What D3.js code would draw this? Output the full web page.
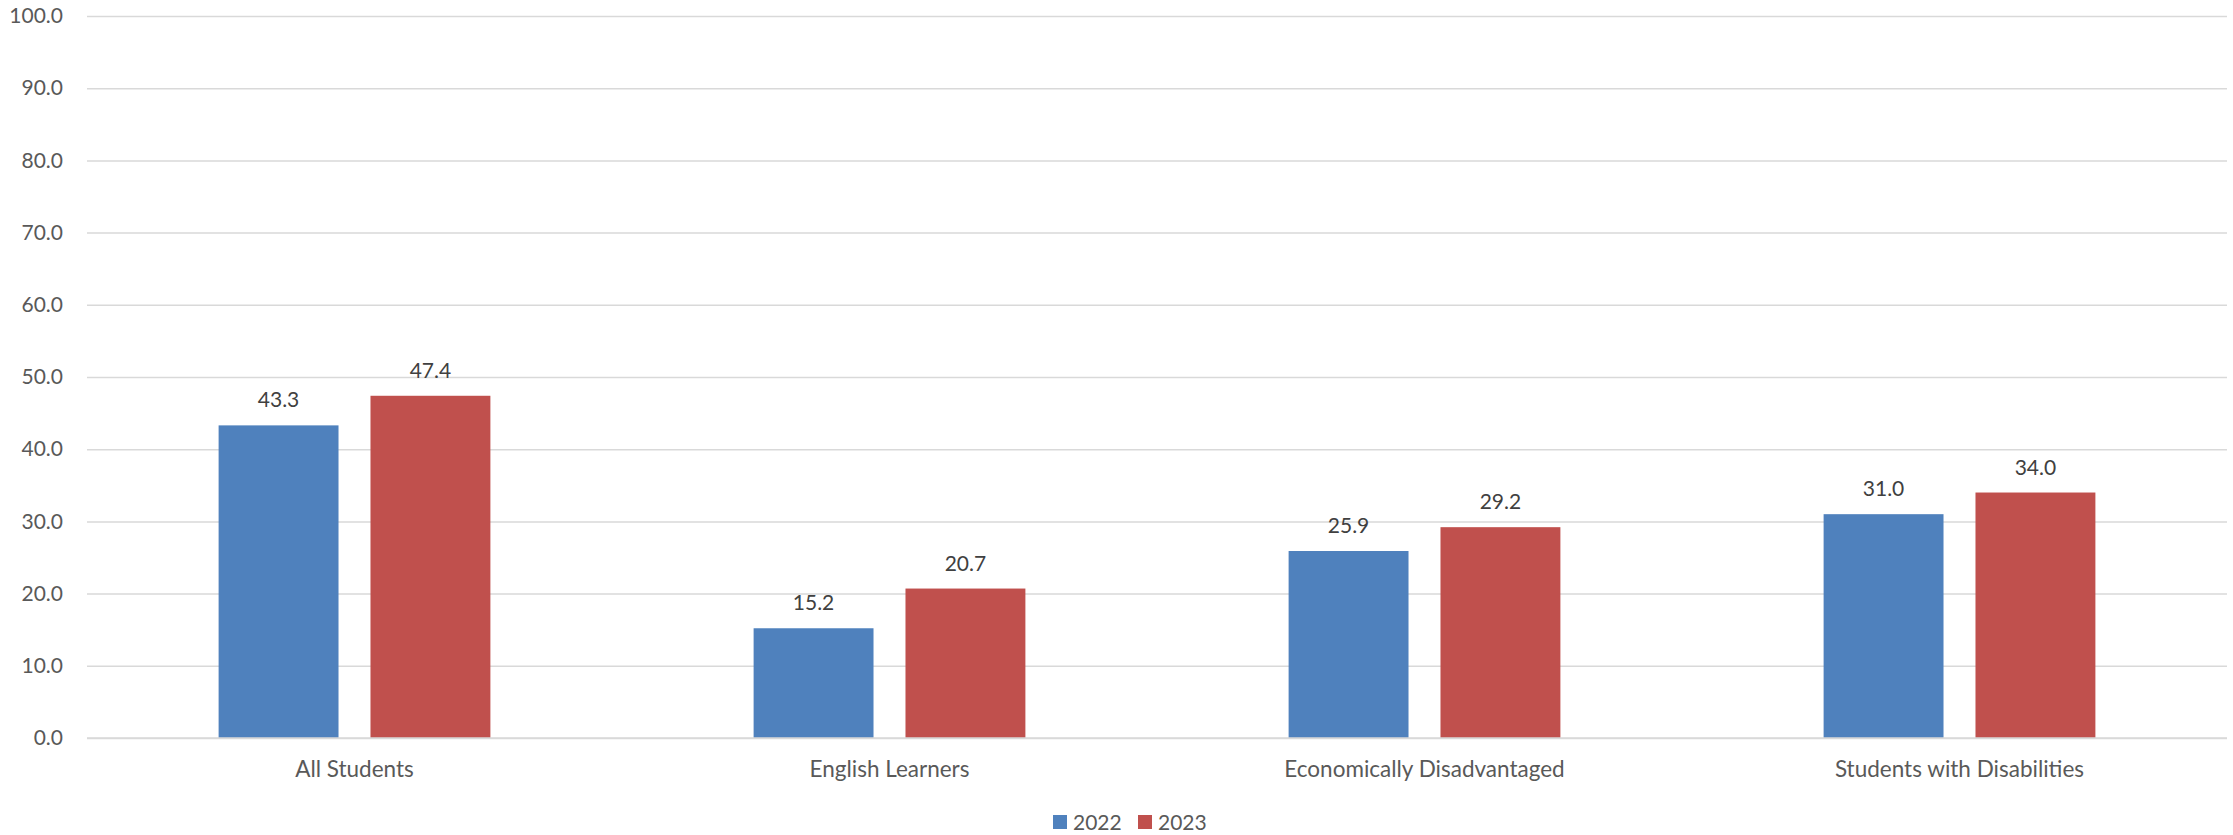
<!DOCTYPE html>
<html>
<head>
<meta charset="utf-8">
<script src="https://cdn.jsdelivr.net/npm/d3@7"></script>
<style>
  html, body { margin: 0; padding: 0; background: #fff; }
  svg { display: block; }
  text { font-family: Lato, "Open Sans", sans-serif; }
</style>
</head>
<body>
<svg id="chart" width="2233" height="835"></svg>
<script>
const categories = ["All Students", "English Learners", "Economically Disadvantaged", "Students with Disabilities"];
const seriesNames = ["2022", "2023"];
const values2022 = [43.3, 15.2, 25.9, 31.0];
const values2023 = [47.4, 20.7, 29.2, 34.0];
const yTicks = [0, 10, 20, 30, 40, 50, 60, 70, 80, 90, 100];
const colors = ["#4F81BD", "#C0504D"];

const series = [values2022, values2023];
const W = 2233, H = 835;
const margin = { left: 87, right: 6, top: 16, bottom: 97 };
const svg = d3.select("#chart");

const x0 = d3.scaleBand().domain(categories)
  .range([margin.left, W - margin.right])
  .paddingInner(0.492).paddingOuter(0.246);
const x1 = d3.scaleBand().domain(seriesNames)
  .range([0, x0.bandwidth()]).paddingInner(0.2105).paddingOuter(0);
const y = d3.scaleLinear().domain([0, 100]).range([H - margin.bottom, margin.top]);

// gridlines
const yAxis = d3.axisLeft(y).tickValues(yTicks)
  .tickSize(-(W - margin.left - margin.right))
  .tickFormat(d3.format(".1f")).tickPadding(24);
const gy = svg.append("g").attr("transform", `translate(${margin.left},0)`).call(yAxis);
gy.select(".domain").remove();
gy.selectAll(".tick line").attr("stroke", "#D9D9D9").attr("stroke-width", 1.5);
gy.selectAll(".tick text").attr("fill", "#595959").attr("font-size", 21)
  .attr("font-family", "Lato, 'Open Sans', sans-serif");

// bars
const groups = svg.append("g").selectAll("g").data(categories).join("g")
  .attr("transform", d => `translate(${x0(d)},0)`);
seriesNames.forEach((s, si) => {
  groups.append("rect")
    .attr("x", x1(s))
    .attr("width", x1.bandwidth())
    .attr("y", (d, i) => y(series[si][i]))
    .attr("height", (d, i) => y(0) - y(series[si][i]))
    .attr("fill", colors[si]);
  groups.append("text")
    .attr("x", x1(s) + x1.bandwidth() / 2)
    .attr("y", (d, i) => y(series[si][i]) - 18)
    .attr("text-anchor", "middle")
    .attr("font-size", 21)
    .attr("fill", "#404040")
    .text((d, i) => d3.format(".1f")(series[si][i]));
});

// x axis baseline
const xAxis = d3.axisBottom(x0).tickSize(0).tickPadding(0);
const gx = svg.append("g").attr("transform", `translate(0,${y(0)})`).call(xAxis);
gx.select(".domain").remove();
svg.append("line")
  .attr("x1", margin.left).attr("x2", W - margin.right)
  .attr("y1", y(0)).attr("y2", y(0))
  .attr("stroke", "#D9D9D9").attr("stroke-width", 1.5);
gx.selectAll(".tick text").attr("fill", "#595959").attr("font-size", 22.5)
  .attr("font-family", "Lato, 'Open Sans', sans-serif")
  .attr("dy", null).attr("y", 39);

// legend
const legendX = [1053, 1138];
const lg = svg.append("g");
seriesNames.forEach((s, i) => {
  lg.append("rect").attr("x", legendX[i]).attr("y", 815).attr("width", 14).attr("height", 14).attr("fill", colors[i]);
  lg.append("text").attr("x", legendX[i] + 20).attr("y", 830).attr("font-size", 21).attr("fill", "#595959").text(s);
});
</script>
</body>
</html>
